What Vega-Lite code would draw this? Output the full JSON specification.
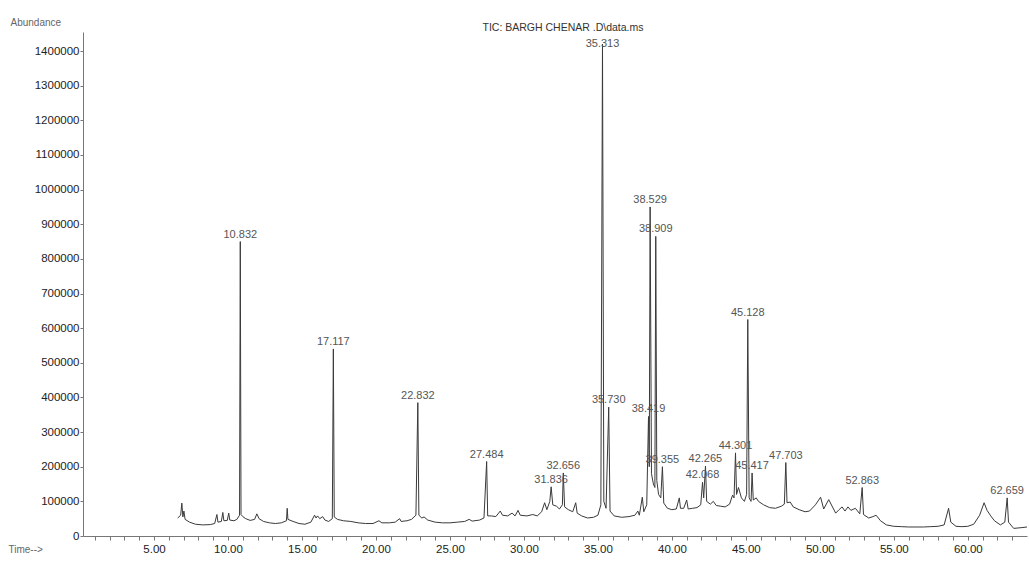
{
  "$schema": "https://vega.github.io/schema/vega-lite/v6.json",
  "width": 944,
  "height": 504,
  "autosize": "none",
  "padding": {"left": 83, "top": 32, "right": 2, "bottom": 26},
  "background": "white",
  "config": {"view": {"stroke": null}, "font": "Liberation Sans"},
  "title": {"text": "TIC: BARGH CHENAR .D\\data.ms", "fontSize": 10.5, "fontWeight": "normal", "color": "#333333", "anchor": "middle", "frame": "group", "dx": 8, "dy": 16, "offset": 0},
  "datasets": {
    "trace": [
      {"t": 6.60, "a": 52000}, {"t": 6.80, "a": 60000}, {"t": 6.88, "a": 95000}, {"t": 6.95, "a": 55000}, {"t": 7.02, "a": 72000}, {"t": 7.10, "a": 48000},
      {"t": 7.40, "a": 40000}, {"t": 7.80, "a": 34000}, {"t": 8.30, "a": 32000}, {"t": 8.80, "a": 33000}, {"t": 9.10, "a": 36000}, {"t": 9.25, "a": 62000},
      {"t": 9.32, "a": 40000}, {"t": 9.55, "a": 42000}, {"t": 9.65, "a": 68000}, {"t": 9.72, "a": 44000}, {"t": 9.95, "a": 45000}, {"t": 10.05, "a": 66000},
      {"t": 10.12, "a": 46000}, {"t": 10.40, "a": 44000}, {"t": 10.60, "a": 48000}, {"t": 10.78, "a": 60000}, {"t": 10.83, "a": 850000}, {"t": 10.88, "a": 62000},
      {"t": 11.00, "a": 56000}, {"t": 11.20, "a": 50000}, {"t": 11.50, "a": 45000}, {"t": 11.80, "a": 48000}, {"t": 11.95, "a": 64000}, {"t": 12.10, "a": 50000},
      {"t": 12.40, "a": 42000}, {"t": 12.80, "a": 38000}, {"t": 13.20, "a": 36000}, {"t": 13.60, "a": 38000}, {"t": 13.95, "a": 44000}, {"t": 14.00, "a": 80000},
      {"t": 14.05, "a": 48000}, {"t": 14.40, "a": 42000}, {"t": 14.80, "a": 36000}, {"t": 15.20, "a": 34000}, {"t": 15.60, "a": 40000}, {"t": 15.85, "a": 60000},
      {"t": 15.95, "a": 52000}, {"t": 16.05, "a": 58000}, {"t": 16.20, "a": 50000}, {"t": 16.40, "a": 56000}, {"t": 16.55, "a": 46000}, {"t": 16.80, "a": 42000},
      {"t": 17.05, "a": 50000}, {"t": 17.12, "a": 540000}, {"t": 17.18, "a": 55000}, {"t": 17.40, "a": 48000}, {"t": 17.80, "a": 44000}, {"t": 18.30, "a": 42000},
      {"t": 18.80, "a": 38000}, {"t": 19.30, "a": 36000}, {"t": 19.80, "a": 36000}, {"t": 20.20, "a": 44000}, {"t": 20.40, "a": 38000}, {"t": 20.90, "a": 38000},
      {"t": 21.30, "a": 40000}, {"t": 21.60, "a": 50000}, {"t": 21.70, "a": 42000}, {"t": 22.10, "a": 44000}, {"t": 22.40, "a": 48000}, {"t": 22.70, "a": 60000},
      {"t": 22.83, "a": 385000}, {"t": 22.90, "a": 60000}, {"t": 23.10, "a": 52000}, {"t": 23.25, "a": 55000}, {"t": 23.50, "a": 46000}, {"t": 24.00, "a": 40000},
      {"t": 24.50, "a": 38000}, {"t": 25.00, "a": 38000}, {"t": 25.50, "a": 40000}, {"t": 26.00, "a": 42000}, {"t": 26.30, "a": 48000}, {"t": 26.50, "a": 43000},
      {"t": 27.00, "a": 46000}, {"t": 27.30, "a": 52000}, {"t": 27.48, "a": 215000}, {"t": 27.55, "a": 58000}, {"t": 27.80, "a": 58000}, {"t": 28.10, "a": 56000},
      {"t": 28.40, "a": 72000}, {"t": 28.55, "a": 60000}, {"t": 28.90, "a": 58000}, {"t": 29.20, "a": 66000}, {"t": 29.40, "a": 58000}, {"t": 29.60, "a": 74000},
      {"t": 29.75, "a": 60000}, {"t": 30.20, "a": 58000}, {"t": 30.60, "a": 62000}, {"t": 30.90, "a": 58000}, {"t": 31.20, "a": 70000}, {"t": 31.40, "a": 96000},
      {"t": 31.55, "a": 76000}, {"t": 31.75, "a": 100000}, {"t": 31.84, "a": 142000}, {"t": 31.95, "a": 90000}, {"t": 32.20, "a": 86000}, {"t": 32.40, "a": 78000},
      {"t": 32.60, "a": 90000}, {"t": 32.66, "a": 182000}, {"t": 32.75, "a": 84000}, {"t": 33.00, "a": 76000}, {"t": 33.30, "a": 70000}, {"t": 33.50, "a": 96000},
      {"t": 33.60, "a": 66000}, {"t": 33.90, "a": 58000}, {"t": 34.30, "a": 52000}, {"t": 34.70, "a": 54000}, {"t": 35.00, "a": 60000}, {"t": 35.20, "a": 90000},
      {"t": 35.31, "a": 1420000}, {"t": 35.40, "a": 100000}, {"t": 35.55, "a": 80000}, {"t": 35.73, "a": 372000}, {"t": 35.82, "a": 72000}, {"t": 36.10, "a": 58000},
      {"t": 36.60, "a": 54000}, {"t": 37.10, "a": 56000}, {"t": 37.50, "a": 60000}, {"t": 37.70, "a": 72000}, {"t": 37.80, "a": 60000}, {"t": 38.00, "a": 112000},
      {"t": 38.10, "a": 70000}, {"t": 38.30, "a": 90000}, {"t": 38.42, "a": 345000}, {"t": 38.47, "a": 200000}, {"t": 38.53, "a": 950000}, {"t": 38.62, "a": 180000},
      {"t": 38.75, "a": 150000}, {"t": 38.85, "a": 140000}, {"t": 38.91, "a": 865000}, {"t": 38.98, "a": 160000}, {"t": 39.10, "a": 120000}, {"t": 39.25, "a": 110000},
      {"t": 39.36, "a": 200000}, {"t": 39.45, "a": 95000}, {"t": 39.70, "a": 80000}, {"t": 40.00, "a": 76000}, {"t": 40.30, "a": 78000}, {"t": 40.50, "a": 110000},
      {"t": 40.58, "a": 80000}, {"t": 40.80, "a": 80000}, {"t": 41.00, "a": 104000}, {"t": 41.10, "a": 78000}, {"t": 41.40, "a": 80000}, {"t": 41.70, "a": 82000},
      {"t": 41.95, "a": 90000}, {"t": 42.07, "a": 155000}, {"t": 42.15, "a": 110000}, {"t": 42.27, "a": 202000}, {"t": 42.35, "a": 100000}, {"t": 42.60, "a": 92000},
      {"t": 42.80, "a": 100000}, {"t": 43.00, "a": 88000}, {"t": 43.30, "a": 86000}, {"t": 43.60, "a": 84000}, {"t": 43.90, "a": 92000}, {"t": 44.10, "a": 118000},
      {"t": 44.20, "a": 110000}, {"t": 44.30, "a": 240000}, {"t": 44.37, "a": 120000}, {"t": 44.50, "a": 140000}, {"t": 44.70, "a": 110000}, {"t": 44.90, "a": 100000},
      {"t": 45.05, "a": 120000}, {"t": 45.13, "a": 625000}, {"t": 45.22, "a": 110000}, {"t": 45.35, "a": 100000}, {"t": 45.42, "a": 182000}, {"t": 45.50, "a": 104000},
      {"t": 45.70, "a": 110000}, {"t": 45.85, "a": 100000}, {"t": 46.20, "a": 90000}, {"t": 46.60, "a": 82000}, {"t": 47.00, "a": 80000}, {"t": 47.40, "a": 86000},
      {"t": 47.60, "a": 92000}, {"t": 47.70, "a": 212000}, {"t": 47.78, "a": 96000}, {"t": 48.00, "a": 98000}, {"t": 48.20, "a": 84000}, {"t": 48.60, "a": 76000},
      {"t": 49.00, "a": 70000}, {"t": 49.30, "a": 72000}, {"t": 49.70, "a": 90000}, {"t": 50.05, "a": 112000}, {"t": 50.26, "a": 78000}, {"t": 50.60, "a": 105000},
      {"t": 51.07, "a": 66000}, {"t": 51.30, "a": 76000}, {"t": 51.50, "a": 84000}, {"t": 51.70, "a": 72000}, {"t": 51.90, "a": 84000}, {"t": 52.10, "a": 74000},
      {"t": 52.40, "a": 80000}, {"t": 52.70, "a": 64000}, {"t": 52.86, "a": 140000}, {"t": 52.95, "a": 62000}, {"t": 53.30, "a": 52000}, {"t": 53.60, "a": 56000},
      {"t": 53.80, "a": 60000}, {"t": 54.10, "a": 44000}, {"t": 54.50, "a": 32000}, {"t": 55.00, "a": 28000}, {"t": 55.50, "a": 27000}, {"t": 56.00, "a": 26000},
      {"t": 56.50, "a": 26000}, {"t": 57.00, "a": 26000}, {"t": 57.50, "a": 27000}, {"t": 58.00, "a": 28000}, {"t": 58.40, "a": 32000}, {"t": 58.70, "a": 80000},
      {"t": 58.85, "a": 40000}, {"t": 59.20, "a": 28000}, {"t": 59.60, "a": 27000}, {"t": 60.00, "a": 28000}, {"t": 60.40, "a": 34000}, {"t": 60.80, "a": 60000},
      {"t": 61.10, "a": 96000}, {"t": 61.30, "a": 74000}, {"t": 61.55, "a": 58000}, {"t": 61.80, "a": 44000}, {"t": 62.20, "a": 32000}, {"t": 62.50, "a": 40000},
      {"t": 62.66, "a": 110000}, {"t": 62.75, "a": 40000}, {"t": 63.10, "a": 22000}, {"t": 63.60, "a": 24000}, {"t": 64.00, "a": 26000}
    ],
    "peaks": [
      {"t": 10.832, "a": 850000, "label": "10.832"},
      {"t": 17.117, "a": 540000, "label": "17.117"},
      {"t": 22.832, "a": 385000, "label": "22.832"},
      {"t": 27.484, "a": 215000, "label": "27.484"},
      {"t": 31.836, "a": 142000, "label": "31.836"},
      {"t": 32.656, "a": 182000, "label": "32.656"},
      {"t": 35.313, "a": 1400000, "label": "35.313"},
      {"t": 35.730, "a": 372000, "label": "35.730"},
      {"t": 38.419, "a": 345000, "label": "38.419"},
      {"t": 38.529, "a": 950000, "label": "38.529"},
      {"t": 38.909, "a": 865000, "label": "38.909"},
      {"t": 39.355, "a": 200000, "label": "39.355"},
      {"t": 42.068, "a": 155000, "label": "42.068"},
      {"t": 42.265, "a": 202000, "label": "42.265"},
      {"t": 44.301, "a": 240000, "label": "44.301"},
      {"t": 45.128, "a": 625000, "label": "45.128"},
      {"t": 45.417, "a": 182000, "label": "45.417"},
      {"t": 47.703, "a": 212000, "label": "47.703"},
      {"t": 52.863, "a": 140000, "label": "52.863"},
      {"t": 62.659, "a": 110000, "label": "62.659"}
    ]
  },
  "layer": [
    {
      "data": {"name": "trace"},
      "mark": {"type": "line", "color": "#3a3a3a", "strokeWidth": 1},
      "encoding": {
        "x": {
          "field": "t", "type": "quantitative",
          "scale": {"domain": [0.2, 64], "nice": false, "zero": false},
          "axis": {
            "title": "Time-->",
            "values": [1,2,3,4,5,6,7,8,9,10,11,12,13,14,15,16,17,18,19,20,21,22,23,24,25,26,27,28,29,30,31,32,33,34,35,36,37,38,39,40,41,42,43,44,45,46,47,48,49,50,51,52,53,54,55,56,57,58,59,60,61,62,63],
            "tickCount": 200,
            "labelExpr": "datum.value % 5 == 0 ? format(datum.value, '.2f') : ''",
            "labelOverlap": false,
            "labelFlush": false,
            "grid": false,
            "tickSize": 4,
            "tickColor": "#777777",
            "domainColor": "#777777",
            "labelFontSize": 11.5,
            "labelColor": "#222222",
            "labelPadding": 3,
            "titleFontSize": 10,
            "titleFontWeight": "normal",
            "titleColor": "#666666",
            "titleAlign": "left",
            "titleBaseline": "middle",
            "titleX": -75,
            "titleY": 13
          }
        },
        "y": {
          "field": "a", "type": "quantitative",
          "scale": {"domain": [0, 1455000], "nice": false},
          "axis": {
            "title": "Abundance",
            "values": [0,100000,200000,300000,400000,500000,600000,700000,800000,900000,1000000,1100000,1200000,1300000,1400000],
            "tickCount": 100,
            "labelOverlap": false,
            "format": "d",
            "grid": false,
            "tickSize": 3,
            "tickColor": "#777777",
            "domainColor": "#777777",
            "labelFontSize": 11.5,
            "labelColor": "#222222",
            "labelPadding": 1,
            "titleAngle": 0,
            "titleFontSize": 10,
            "titleFontWeight": "normal",
            "titleColor": "#666666",
            "titleAlign": "left",
            "titleBaseline": "middle",
            "titleX": -73,
            "titleY": -10
          }
        }
      }
    },
    {
      "data": {"name": "peaks"},
      "mark": {"type": "text", "baseline": "bottom", "dy": -2, "fontSize": 11, "color": "#555555"},
      "encoding": {
        "x": {"field": "t", "type": "quantitative"},
        "y": {"field": "a", "type": "quantitative"},
        "text": {"field": "label"}
      }
    }
  ]
}
